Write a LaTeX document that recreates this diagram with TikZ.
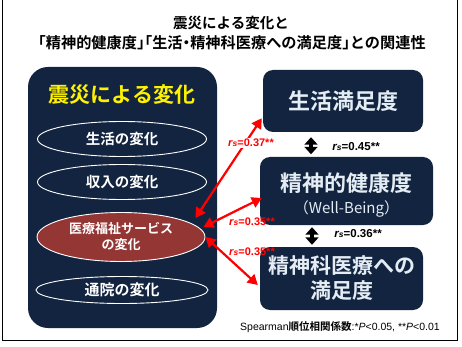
\documentclass[tikz,border=0pt]{standalone}
\usepackage{fontspec}
\setmainfont{Noto Sans CJK JP}[BoldFont={Noto Sans CJK JP Bold}]
\newfontfamily\lat{Liberation Sans}
\usetikzlibrary{shapes.geometric,arrows.meta}
\definecolor{navy}{HTML}{132440}
\definecolor{ellred}{HTML}{943634}
\definecolor{boxtext}{HTML}{E4ECF4}
\newcommand\rslab[1]{{\lat\bfseries\itshape r\kern0.2pt{\fontsize{8.5}{8}\selectfont s}}{\lat\bfseries =#1}}
\tikzset{
  titletext/.style={font=\bfseries\fontsize{14.5}{16}\selectfont, inner sep=0pt},
  leftbox/.style={fill=navy, rounded corners=20pt, minimum width=189pt, minimum height=261pt, inner sep=0pt},
  ell/.style={ellipse, draw=white, line width=0.9pt, text=white, inner sep=0pt,
    font=\bfseries\fontsize{14.5}{16}\selectfont, minimum width=169pt, minimum height=35pt},
  rbox/.style={rectangle, fill=navy, rounded corners=10pt, text=boxtext, inner sep=0pt, align=center,
    font=\bfseries\fontsize{22}{25}\selectfont},
  boxtxt/.style={text=boxtext, inner sep=0pt, align=center, font=\bfseries\fontsize{22}{25}\selectfont},
  redarr/.style={draw=red, line width=2.2pt, {Triangle[length=10pt,width=11pt]}-{Triangle[length=10pt,width=11pt]}},
  blkarr/.style={draw=black, line width=4.5pt, {Triangle[length=7.5pt,width=13pt]}-{Triangle[length=7.5pt,width=13pt]}},
  redlab/.style={text=red, font=\fontsize{11}{12}\selectfont, inner sep=1pt},
  blklab/.style={text=black, font=\fontsize{11.5}{12}\selectfont, inner sep=1pt}
}
\begin{document}
\begin{tikzpicture}[x=1pt,y=-1pt]
\useasboundingbox (0,0) rectangle (462,347);
\fill[white] (0,0) rectangle (462,347);
\draw[line width=1.3pt] (2.5,-5) rectangle (457.5,340.5);
% title
\node[titletext] (t1) at (231,23) {震災による変化と};
\node[titletext, font=\bfseries\fontsize{15.2}{16}\selectfont] (t2) at (232,43) {\addfontfeatures{RawFeature=+halt}「精神的健康度」「生活・精神科医療への満足度」との関連性};
% left box
\node[leftbox] (L) at (122.5,197.5) {};
\node[text=yellow, font=\bfseries\fontsize{21}{22}\selectfont, inner sep=0pt] (Lt) at (122,95) {震災による変化};
\node[ell] (E1) at (122,139) {生活の変化};
\node[ell] (E2) at (122,182) {収入の変化};
\node[ell, fill=ellred, minimum width=168pt, minimum height=49pt, align=center,
      font=\bfseries\fontsize{13}{16}\selectfont] (M) at (121,237) {医療福祉サービス\\の変化};
\node[ell, minimum width=172pt, minimum height=27pt, font=\bfseries\fontsize{15}{16}\selectfont] (E4) at (122,290) {通院の変化};
% right boxes
\node[rbox, minimum width=160pt, minimum height=62pt] (A) at (343,101) {生活満足度};
\node[rbox, minimum width=173pt, minimum height=68pt,
  label={[boxtxt, yshift=-4.5pt]center:{精神的健康度\\[-3pt]{\mdseries\fontsize{15}{18}\selectfont （Well-Being）}}}] (B) at (346.5,191) {};
\node[rbox, minimum width=163pt, minimum height=63pt, font=\bfseries\fontsize{21}{25}\selectfont] (C) at (341.5,278.5)
  {精神科医療への\\満足度};
% black arrows
\draw[blkarr] ([xshift=-32pt,yshift=-5pt]A.south) -- ([xshift=-35.5pt,yshift=2.5pt]B.north);
\draw[blkarr] ([xshift=-34.5pt,yshift=-2pt]B.south) -- ([xshift=-29.5pt,yshift=2pt]C.north);
\node[blklab] (l45) at (356,147) {\rslab{0.45**}};
\node[blklab] (l36) at (358,234) {\rslab{0.36**}};
% red arrows
\coordinate (m1) at ([xshift=-10pt,yshift=19pt]M.east);
\coordinate (m2) at ([xshift=-2pt,yshift=10pt]M.east);
\coordinate (m3) at (M.east);
\coordinate (a1) at ([xshift=-1pt,yshift=14pt]A.south west);
\coordinate (b1) at ([xshift=2pt,yshift=-7pt]B.west);
\coordinate (c1) at ([xshift=-2pt,yshift=-6.5pt]C.west);
\draw[redarr] (m1) -- (a1);
\draw[redarr] (m2) -- (b1);
\draw[redarr] (m3) -- (c1);
\node[redlab, fill=white] (l37) at (251,143) {\rslab{0.37**}};
\node[redlab] (l35a) at (252,222) {\rslab{0.35**}};
\node[redlab] (l35b) at (252,252) {\rslab{0.35**}};
% footnote
\node[font=\fontsize{10.5}{11}\selectfont, inner sep=0pt] (fn) at (340,327)
  {{\lat Spearman}\textbf{順位相関係数}{\lat :*\textit{P}<0.05, **\textit{P}<0.01}};
\end{tikzpicture}
\end{document}
